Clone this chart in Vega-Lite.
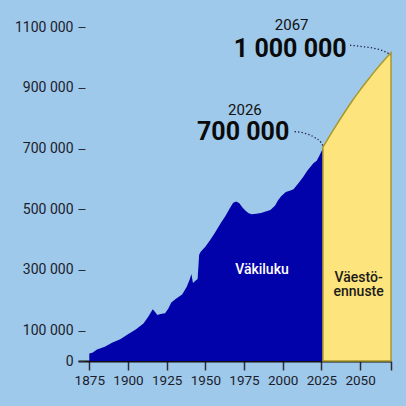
{
  "$schema": "https://vega.github.io/schema/vega-lite/v6.json",
  "width": 313,
  "height": 361,
  "autosize": {"type": "none"},
  "padding": {"left": 78, "top": 0, "right": 15, "bottom": 45},
  "background": "#9ec9ea",
  "config": {
    "view": {"stroke": null},
    "font": "Roboto",
    "axis": {"grid": false, "labelFont": "Roboto", "labelFontSize": 13.5, "labelColor": "#1c1c2c", "title": null}
  },
  "datasets": {
    "history": [
      {"year": 1875, "pop": 25000}, {"year": 1877, "pop": 27000}, {"year": 1880, "pop": 38000},
      {"year": 1885, "pop": 47000}, {"year": 1890, "pop": 61000}, {"year": 1895, "pop": 72000},
      {"year": 1900, "pop": 88000}, {"year": 1905, "pop": 104000}, {"year": 1910, "pop": 124000},
      {"year": 1913, "pop": 145000}, {"year": 1916, "pop": 171000}, {"year": 1917, "pop": 165000},
      {"year": 1919, "pop": 152000}, {"year": 1921, "pop": 155000}, {"year": 1924, "pop": 157000},
      {"year": 1926, "pop": 172000}, {"year": 1928, "pop": 193000}, {"year": 1931, "pop": 205000},
      {"year": 1935, "pop": 219000}, {"year": 1938, "pop": 245000}, {"year": 1940, "pop": 270000},
      {"year": 1941, "pop": 287000}, {"year": 1942, "pop": 257000}, {"year": 1943, "pop": 262000},
      {"year": 1945, "pop": 270000}, {"year": 1946, "pop": 350000}, {"year": 1947, "pop": 360000},
      {"year": 1950, "pop": 377000}, {"year": 1953, "pop": 398000}, {"year": 1956, "pop": 421000},
      {"year": 1960, "pop": 455000}, {"year": 1963, "pop": 478000}, {"year": 1966, "pop": 505000},
      {"year": 1968, "pop": 522000}, {"year": 1970, "pop": 526000}, {"year": 1972, "pop": 520000},
      {"year": 1974, "pop": 506000}, {"year": 1976, "pop": 495000}, {"year": 1978, "pop": 487000},
      {"year": 1980, "pop": 484000}, {"year": 1983, "pop": 485000}, {"year": 1986, "pop": 488000},
      {"year": 1989, "pop": 493000}, {"year": 1992, "pop": 498000}, {"year": 1995, "pop": 512000},
      {"year": 1997, "pop": 530000}, {"year": 1999, "pop": 543000}, {"year": 2002, "pop": 557000},
      {"year": 2005, "pop": 562000}, {"year": 2007, "pop": 566000}, {"year": 2010, "pop": 585000},
      {"year": 2013, "pop": 605000}, {"year": 2016, "pop": 628000}, {"year": 2018, "pop": 640000},
      {"year": 2020, "pop": 653000}, {"year": 2022, "pop": 660000}, {"year": 2024, "pop": 680000},
      {"year": 2026, "pop": 701000}
    ],
    "forecast": [
      {"year": 2026, "pop": 705000}, {"year": 2030, "pop": 739000}, {"year": 2035, "pop": 780000},
      {"year": 2040, "pop": 820000}, {"year": 2045, "pop": 858000}, {"year": 2050, "pop": 893000},
      {"year": 2055, "pop": 926000}, {"year": 2060, "pop": 958000}, {"year": 2065, "pop": 988000},
      {"year": 2070, "pop": 1016000}
    ],
    "leaders": [
      {"g": "a", "year": 2007.7, "pop": 756000}, {"g": "a", "year": 2014.2, "pop": 751000},
      {"g": "a", "year": 2020.6, "pop": 737000}, {"g": "a", "year": 2024.5, "pop": 722000},
      {"g": "a", "year": 2026.1, "pop": 709000},
      {"g": "b", "year": 2043.5, "pop": 1041000}, {"g": "b", "year": 2051.3, "pop": 1036500},
      {"g": "b", "year": 2059.7, "pop": 1030000}, {"g": "b", "year": 2066.1, "pop": 1020000},
      {"g": "b", "year": 2069.7, "pop": 1009000}
    ],
    "years": [
      {"year": 1975.6, "pop": 829000, "label": "2026"},
      {"year": 2005.8, "pop": 1106000, "label": "2067"}
    ],
    "values": [
      {"year": 1974.4, "pop": 756000, "label": "700 000"},
      {"year": 2004.9, "pop": 1030000, "label": "1 000 000"}
    ]
  },
  "layer": [
    {
      "data": {"name": "history"},
      "mark": {"type": "area", "color": "#0202aa", "interpolate": "linear"},
      "encoding": {
        "x": {
          "field": "year", "type": "quantitative",
          "scale": {"domain": [1867.7, 2070], "nice": false, "zero": false},
          "axis": {
            "values": [1875, 1900, 1925, 1950, 1975, 2000, 2025, 2050, 2070],
            "tickCount": 30,
            "format": "d",
            "labelExpr": "datum.value == 2070 ? '' : datum.label",
            "domainColor": "#111111", "domainWidth": 2,
            "tickColor": "#2a2a3a", "tickWidth": 1.5, "tickSize": 9,
            "labelPadding": 3, "labelFlush": false, "labelOverlap": false
          }
        },
        "y": {
          "field": "pop", "type": "quantitative",
          "scale": {"domain": [0, 1190000], "nice": false},
          "axis": {
            "values": [0, 100000, 300000, 500000, 700000, 900000, 1100000],
            "tickCount": 30,
            "labelExpr": "datum.value == 0 ? '0' : format(floor(datum.value / 1000), 'd') + ' 000'",
            "labelFontSize": 14,
            "domain": false, "offset": -7,
            "tickColor": "#2a2a3a", "tickWidth": 1, "tickSize": 7,
            "labelPadding": 5
          }
        }
      }
    },
    {
      "data": {"name": "forecast"},
      "mark": {"type": "area", "color": "#fde47c", "stroke": "#a8982c", "strokeWidth": 1.5, "interpolate": "monotone"},
      "encoding": {
        "x": {"field": "year", "type": "quantitative"},
        "y": {"field": "pop", "type": "quantitative"}
      }
    },
    {
      "data": {"name": "leaders"},
      "mark": {"type": "line", "color": "#1c1c40", "strokeWidth": 1.3, "strokeDash": [1.3, 2.2], "interpolate": "monotone"},
      "encoding": {
        "x": {"field": "year", "type": "quantitative"},
        "y": {"field": "pop", "type": "quantitative"},
        "detail": {"field": "g"}
      }
    },
    {
      "data": {"name": "years"},
      "mark": {"type": "text", "font": "Roboto", "fontSize": 15, "color": "#111111", "align": "center", "baseline": "middle"},
      "encoding": {
        "x": {"field": "year", "type": "quantitative"},
        "y": {"field": "pop", "type": "quantitative"},
        "text": {"field": "label"}
      }
    },
    {
      "data": {"name": "values"},
      "mark": {"type": "text", "font": "Roboto", "fontSize": 25, "fontWeight": "bold", "color": "#0a0a0a", "align": "center", "baseline": "middle"},
      "encoding": {
        "x": {"field": "year", "type": "quantitative"},
        "y": {"field": "pop", "type": "quantitative"},
        "text": {"field": "label"}
      }
    },
    {
      "data": {"values": [{"year": 1986.6, "pop": 301000, "label": "Väkiluku"}]},
      "mark": {"type": "text", "font": "Roboto", "fontSize": 14, "fontWeight": 500, "color": "#ffffff", "align": "center", "baseline": "middle"},
      "encoding": {
        "x": {"field": "year", "type": "quantitative"},
        "y": {"field": "pop", "type": "quantitative"},
        "text": {"field": "label"}
      }
    },
    {
      "data": {"values": [{"year": 2049.1, "pop": 274500, "line1": "Väestö-", "line2": "ennuste"}]},
      "transform": [{"calculate": "[datum.line1, datum.line2]", "as": "label"}],
      "mark": {"type": "text", "font": "Roboto", "fontSize": 14, "fontWeight": 500, "color": "#1a1a1a", "align": "center", "baseline": "middle", "lineHeight": 14.5},
      "encoding": {
        "x": {"field": "year", "type": "quantitative"},
        "y": {"field": "pop", "type": "quantitative"},
        "text": {"field": "label"}
      }
    }
  ]
}
